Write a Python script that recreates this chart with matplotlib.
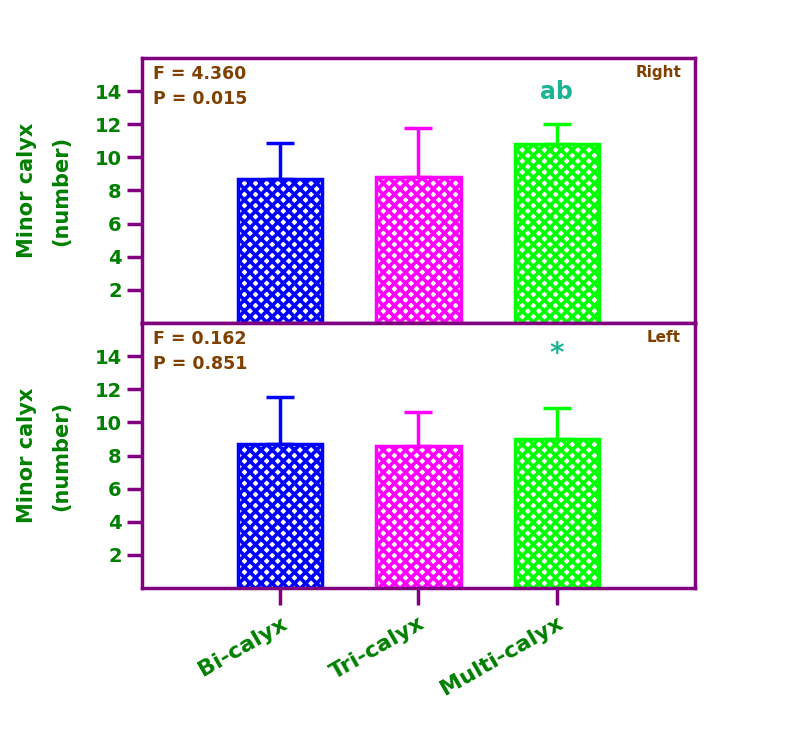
import matplotlib
matplotlib.use("Agg")
from matplotlib import pyplot as plt

categories = ['Bi-calyx', 'Tri-calyx', 'Multi-calyx']
right_means = [8.7, 8.8, 10.8]
right_err = [2.15, 3.0, 1.2]
left_means = [8.7, 8.55, 9.0]
left_err = [2.85, 2.1, 1.85]
colors = ['#0000FF', '#FF00FF', '#00FF00']
yticks = [2, 4, 6, 8, 10, 12, 14]

purple = '#800080'
green = '#007F00'
brown = '#804000'
teal = '#1BB494'

plt.rcParams['font.family'] = ['DejaVu Sans']
plt.rcParams['font.weight'] = 'bold'
plt.rcParams['hatch.linewidth'] = 2.6

fig = plt.figure(figsize=(7.99, 7.29), dpi=100)
ax1 = fig.add_axes([0.1777, 0.557, 0.692, 0.3635])
ax2 = fig.add_axes([0.1777, 0.1934, 0.692, 0.3635])

x = [1, 2, 3]

def panel(ax, means, errs, stats, side):
    for xi, m, e, c in zip(x, means, errs, colors):
        ax.bar(xi, m, width=0.61, facecolor='white', edgecolor=c,
               hatch='xxx', linewidth=2.5, zorder=2)
        ax.errorbar(xi, m, yerr=[[0], [e]], color=c, capsize=10,
                    capthick=2.5, elinewidth=2.5, zorder=1)
    ax.set_xlim(0, 4)
    ax.set_ylim(0, 16)
    ax.set_yticks(yticks)
    ax.tick_params(axis='y', direction='out', length=11, width=2.5,
                   color=purple, labelcolor=green, labelsize=14)
    for s in ax.spines.values():
        s.set_color(purple)
        s.set_linewidth(2.5)
    ax.set_ylabel('Minor calyx\n(number)', color=green, fontsize=15,
                  fontweight='bold', labelpad=17, linespacing=1.9)
    ax.text(0.02, 0.975, stats, transform=ax.transAxes, ha='left', va='top',
            color=brown, fontsize=12.5, fontweight='bold', linespacing=1.5)
    ax.text(0.975, 0.975, side, transform=ax.transAxes, ha='right', va='top',
            color=brown, fontsize=11, fontweight='bold')

panel(ax1, right_means, right_err, 'F = 4.360\nP = 0.015', 'Right')
panel(ax2, left_means, left_err, 'F = 0.162\nP = 0.851', 'Left')

ax1.text(3, 13.2, 'ab', ha='center', va='bottom', color=teal, fontsize=17)
ax2.text(3, 13.3, '*', ha='center', va='bottom', color=teal, fontsize=20)

ax1.set_xticks([])
ax2.set_xticks(x)
ax2.set_xticklabels(categories, rotation=30, ha='right',
                    rotation_mode='anchor')
ax2.tick_params(axis='x', direction='out', length=12, width=2.5,
                color=purple, labelcolor=green, labelsize=16, pad=6)

plt.savefig('out.png', dpi=100)
